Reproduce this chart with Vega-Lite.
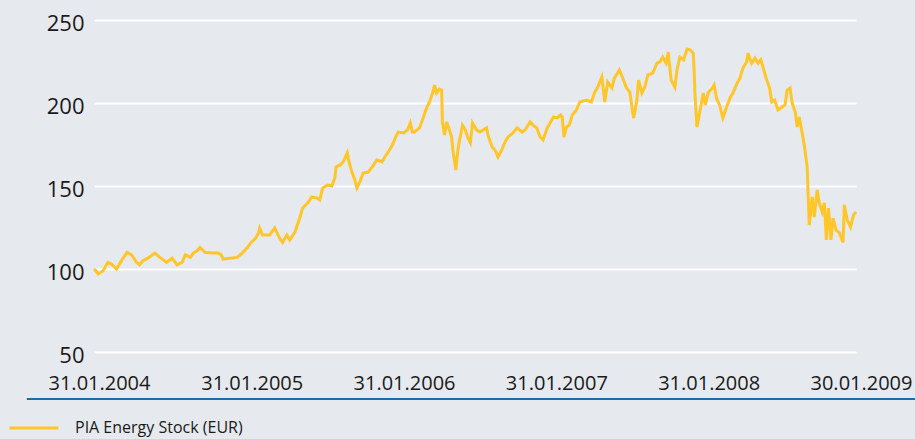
{
  "$schema": "https://vega.github.io/schema/vega-lite/v6.json",
  "width": 762,
  "height": 332,
  "autosize": {"type": "none"},
  "padding": {"left": 94, "top": 20, "right": 59, "bottom": 87},
  "background": "#e6e9ee",
  "config": {"view": {"stroke": null}, "font": "Open Sans"},
  "datasets": {
    "sep": [{"d1": "2003-08-23", "d2": "2009-06-21", "v": 21.7}],
    "stock": [
{"date":"2004-01-31","value":100},{"date":"2004-02-03","value":99.4},{"date":"2004-02-10","value":97},{"date":"2004-02-22","value":99},{"date":"2004-03-04","value":104},{"date":"2004-03-13","value":103},{"date":"2004-03-25","value":100},{"date":"2004-04-07","value":105.5},{"date":"2004-04-19","value":110},{"date":"2004-04-30","value":108.5},{"date":"2004-05-12","value":104},{"date":"2004-05-19","value":102.5},{"date":"2004-05-27","value":105},{"date":"2004-06-08","value":106.5},{"date":"2004-06-25","value":109.6},{"date":"2004-07-07","value":107},{"date":"2004-07-23","value":104},{"date":"2004-08-05","value":106.5},{"date":"2004-08-17","value":102.5},{"date":"2004-08-29","value":104},{"date":"2004-09-06","value":108.5},{"date":"2004-09-18","value":107},{"date":"2004-09-25","value":109.6},{"date":"2004-10-04","value":111},{"date":"2004-10-11","value":113},{"date":"2004-10-23","value":110},{"date":"2004-11-09","value":109.6},{"date":"2004-11-24","value":109.6},{"date":"2004-12-01","value":108.5},{"date":"2004-12-05","value":106},{"date":"2004-12-22","value":106.5},{"date":"2005-01-08","value":107},{"date":"2005-01-20","value":109.6},
{"date":"2005-02-02","value":113},{"date":"2005-02-09","value":115.6},{"date":"2005-02-21","value":118.5},{"date":"2005-02-28","value":121.5},{"date":"2005-03-03","value":124.7},{"date":"2005-03-10","value":120.5},{"date":"2005-03-27","value":120.5},{"date":"2005-04-08","value":124.7},{"date":"2005-04-20","value":118.5},{"date":"2005-04-27","value":116},{"date":"2005-05-07","value":120.5},{"date":"2005-05-14","value":117.5},{"date":"2005-05-26","value":122},{"date":"2005-06-07","value":130.7},{"date":"2005-06-14","value":136.7},{"date":"2005-06-26","value":139.8},{"date":"2005-07-06","value":143.4},{"date":"2005-07-18","value":142.8},{"date":"2005-07-25","value":141.6},{"date":"2005-08-01","value":148.8},{"date":"2005-08-13","value":150.6},{"date":"2005-08-23","value":150},{"date":"2005-08-30","value":154.8},{"date":"2005-09-02","value":161.5},{"date":"2005-09-12","value":162.7},{"date":"2005-09-19","value":164.5},{"date":"2005-09-29","value":170},{"date":"2005-10-02","value":165.7},{"date":"2005-10-10","value":158.4},{"date":"2005-10-17","value":153.6},{"date":"2005-10-22","value":148.8},{"date":"2005-10-29","value":152.4},{"date":"2005-11-06","value":157.8},{"date":"2005-11-18","value":158.4},{"date":"2005-11-28","value":161.5},{"date":"2005-12-09","value":165.7},{"date":"2005-12-21","value":164.5},{"date":"2005-12-28","value":167.5},{"date":"2006-01-05","value":170.5},{"date":"2006-01-15","value":174.7},{"date":"2006-01-22","value":179},{"date":"2006-01-29","value":182.5},
{"date":"2006-02-11","value":182},{"date":"2006-02-20","value":183.7},{"date":"2006-02-27","value":188},{"date":"2006-03-04","value":182.5},{"date":"2006-03-09","value":182.5},{"date":"2006-03-21","value":185},{"date":"2006-03-28","value":189.8},{"date":"2006-04-07","value":197},{"date":"2006-04-14","value":200.6},{"date":"2006-04-22","value":206.6},{"date":"2006-04-26","value":210.8},{"date":"2006-05-01","value":206},{"date":"2006-05-08","value":208.4},{"date":"2006-05-13","value":207.8},{"date":"2006-05-15","value":188},{"date":"2006-05-20","value":180.7},{"date":"2006-05-25","value":188.6},{"date":"2006-05-30","value":185},{"date":"2006-06-06","value":179.5},{"date":"2006-06-09","value":171.7},{"date":"2006-06-16","value":159.6},{"date":"2006-06-21","value":171.7},{"date":"2006-06-25","value":177.7},{"date":"2006-07-02","value":186.7},{"date":"2006-07-09","value":183.7},{"date":"2006-07-14","value":179.5},{"date":"2006-07-21","value":176},{"date":"2006-07-26","value":188},{"date":"2006-08-05","value":183.7},{"date":"2006-08-13","value":182.5},{"date":"2006-08-20","value":183.7},{"date":"2006-08-29","value":185},{"date":"2006-09-01","value":180.7},{"date":"2006-09-11","value":173.5},{"date":"2006-09-18","value":171.7},{"date":"2006-09-25","value":167.5},{"date":"2006-10-04","value":171.7},{"date":"2006-10-12","value":176.5},{"date":"2006-10-19","value":179.5},{"date":"2006-10-31","value":182},{"date":"2006-11-10","value":185},{"date":"2006-11-22","value":182.5},{"date":"2006-11-29","value":183.7},{"date":"2006-12-11","value":188.6},{"date":"2006-12-18","value":186.7},{"date":"2006-12-27","value":185},{"date":"2007-01-04","value":179.5},{"date":"2007-01-11","value":177.7},{"date":"2007-01-21","value":185},{"date":"2007-01-28","value":188},
{"date":"2007-02-05","value":191.6},{"date":"2007-02-14","value":191},{"date":"2007-02-22","value":192.8},{"date":"2007-02-26","value":191.6},{"date":"2007-03-02","value":179.5},{"date":"2007-03-08","value":185.5},{"date":"2007-03-15","value":186.7},{"date":"2007-03-22","value":192.8},{"date":"2007-04-01","value":195.8},{"date":"2007-04-09","value":200.6},{"date":"2007-04-25","value":201.8},{"date":"2007-05-07","value":200.6},{"date":"2007-05-14","value":206},{"date":"2007-05-21","value":209},{"date":"2007-06-01","value":215.7},{"date":"2007-06-08","value":200.6},{"date":"2007-06-15","value":212.6},{"date":"2007-06-25","value":209},{"date":"2007-07-01","value":215},{"date":"2007-07-13","value":219.9},{"date":"2007-07-20","value":215.7},{"date":"2007-07-30","value":209},{"date":"2007-08-07","value":206.6},{"date":"2007-08-12","value":197.6},{"date":"2007-08-16","value":191},{"date":"2007-08-24","value":201.8},{"date":"2007-08-28","value":213.8},{"date":"2007-09-05","value":206},{"date":"2007-09-12","value":209.6},{"date":"2007-09-19","value":216.9},{"date":"2007-10-01","value":218},{"date":"2007-10-11","value":224},{"date":"2007-10-18","value":224.7},{"date":"2007-10-25","value":227.7},{"date":"2007-11-02","value":224},{"date":"2007-11-07","value":230.7},{"date":"2007-11-14","value":213.8},{"date":"2007-11-23","value":209.6},{"date":"2007-11-28","value":219.9},{"date":"2007-12-05","value":227.7},{"date":"2007-12-14","value":226},{"date":"2007-12-22","value":232.5},{"date":"2007-12-29","value":232},{"date":"2008-01-06","value":230},{"date":"2008-01-08","value":220},{"date":"2008-01-10","value":206},{"date":"2008-01-15","value":185.5},{"date":"2008-01-22","value":195},{"date":"2008-01-30","value":206},
{"date":"2008-02-04","value":198.8},{"date":"2008-02-11","value":206.3},{"date":"2008-02-21","value":209},{"date":"2008-02-25","value":210.8},{"date":"2008-03-02","value":202.7},{"date":"2008-03-09","value":198.8},{"date":"2008-03-17","value":191},{"date":"2008-03-26","value":197.6},{"date":"2008-04-03","value":203},{"date":"2008-04-10","value":206},{"date":"2008-04-20","value":212},{"date":"2008-04-27","value":215},{"date":"2008-05-04","value":221},{"date":"2008-05-13","value":224.7},{"date":"2008-05-16","value":230},{"date":"2008-05-25","value":224},{"date":"2008-06-02","value":227},{"date":"2008-06-09","value":224},{"date":"2008-06-16","value":226},{"date":"2008-06-21","value":221.7},{"date":"2008-06-30","value":213.8},{"date":"2008-07-07","value":209},{"date":"2008-07-12","value":200.6},{"date":"2008-07-19","value":201.8},{"date":"2008-07-27","value":195.8},{"date":"2008-08-06","value":197.6},{"date":"2008-08-13","value":198.8},{"date":"2008-08-18","value":207.8},{"date":"2008-08-25","value":209},{"date":"2008-08-30","value":200},{"date":"2008-09-07","value":194},{"date":"2008-09-11","value":185.5},{"date":"2008-09-16","value":191.6},{"date":"2008-09-23","value":181.9},{"date":"2008-09-28","value":174.7},{"date":"2008-10-05","value":161.5},{"date":"2008-10-07","value":147.6},{"date":"2008-10-10","value":126.5},{"date":"2008-10-17","value":143.4},{"date":"2008-10-22","value":131.3},{"date":"2008-10-29","value":147.6},{"date":"2008-11-03","value":139.8},{"date":"2008-11-10","value":134.3},{"date":"2008-11-15","value":139.8},{"date":"2008-11-20","value":117.5},{"date":"2008-11-25","value":136.7},{"date":"2008-12-01","value":117.5},{"date":"2008-12-06","value":130.7},{"date":"2008-12-13","value":123.5},{"date":"2008-12-21","value":121.7},{"date":"2008-12-30","value":116},{"date":"2009-01-02","value":138.6},{"date":"2009-01-09","value":129.5},{"date":"2009-01-17","value":125.3},{"date":"2009-01-24","value":132.5},{"date":"2009-01-30","value":134.3}
    ]
  },
  "layer": [
    {
      "data": {"name": "stock"},
      "mark": {"type": "line", "color": "#ffc629", "strokeWidth": 3},
      "encoding": {
        "x": {
          "field": "date", "type": "temporal",
          "scale": {"type": "utc", "nice": false, "domain": [{"year": 2004, "month": 1, "date": 31, "utc": true}, {"year": 2009, "month": 1, "date": 30, "utc": true}]},
          "axis": {
            "values": [
              {"year": 2004, "month": 1, "date": 31, "utc": true},
              {"year": 2005, "month": 1, "date": 31, "utc": true},
              {"year": 2006, "month": 1, "date": 31, "utc": true},
              {"year": 2007, "month": 1, "date": 31, "utc": true},
              {"year": 2008, "month": 1, "date": 31, "utc": true},
              {"year": 2009, "month": 1, "date": 30, "utc": true}
            ],
            "format": "%d.%m.%Y", "title": null, "domain": false, "ticks": false, "tickSize": 0, "grid": false,
            "labelFont": "Open Sans", "labelFontSize": 20, "labelColor": "#1a1a1a",
            "labelBaseline": "alphabetic", "labelPadding": 37, "labelOffset": 5,
            "labelFlush": false, "labelOverlap": false, "labelBound": false
          }
        },
        "y": {
          "field": "value", "type": "quantitative",
          "scale": {"domain": [50, 250], "nice": false, "zero": false},
          "axis": {
            "values": [50, 100, 150, 200, 250], "title": null, "domain": false, "ticks": false, "tickSize": 0,
            "grid": true, "gridColor": "#ffffff", "gridWidth": 2,
            "labelFont": "Open Sans", "labelFontSize": 22, "labelColor": "#1a1a1a", "labelPadding": 10, "labelOffset": 3
          }
        },
        "color": {
          "datum": "PIA Energy Stock (EUR)",
          "scale": {"range": ["#ffc629"]},
          "legend": {
            "orient": "none", "legendX": -86, "legendY": 382, "title": null,
            "symbolType": "stroke", "symbolSize": 2401, "symbolStrokeWidth": 3,
            "labelFont": "Open Sans", "labelFontSize": 16, "labelLimit": 400, "labelColor": "#1a1a1a", "labelOffset": 15
          }
        }
      }
    },
    {
      "data": {"name": "sep"},
      "mark": {"type": "rule", "color": "#1f6aa0", "strokeWidth": 2, "clip": false},
      "encoding": {
        "x": {"field": "d1", "type": "temporal"},
        "x2": {"field": "d2"},
        "y": {"field": "v", "type": "quantitative"}
      }
    }
  ]
}
